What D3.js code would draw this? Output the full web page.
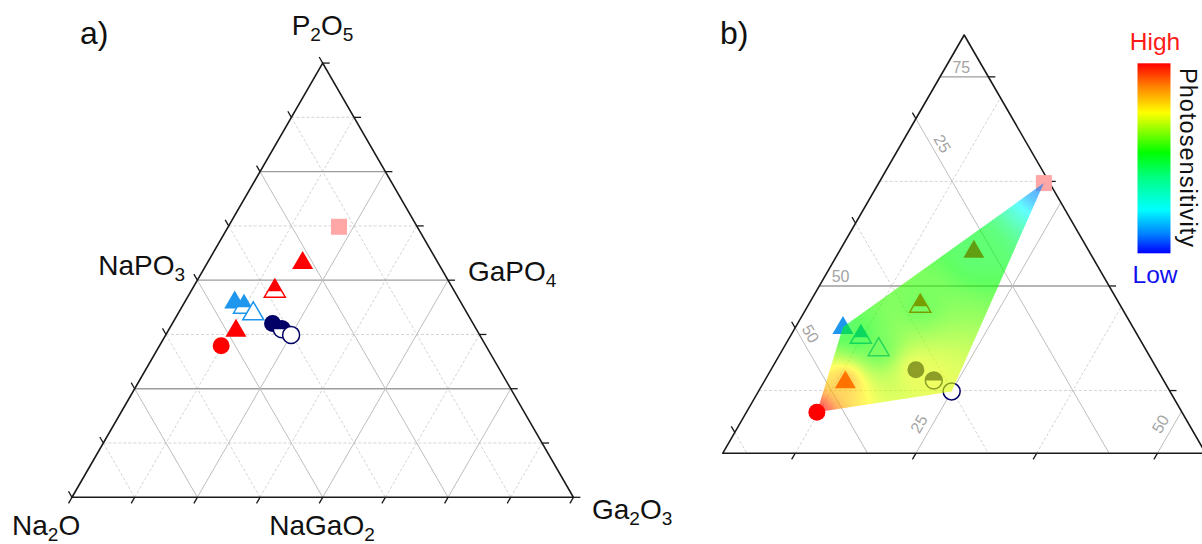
<!DOCTYPE html>
<html><head><meta charset="utf-8">
<script src="https://cdn.jsdelivr.net/npm/d3@7"></script>
<style>
html,body{margin:0;padding:0;background:#fff;overflow:hidden;}
svg{display:block;font-family:"Liberation Sans",Arial,Helvetica,sans-serif;}
</style>
</head><body>
<svg id="chart" width="1202" height="544"></svg>
<script>
// ---------------- data ----------------
// glass compositions (mol%)
const P2O5  = [62.3, 54.2, 47.7, 45.1, 44.0, 42.5, 38.6, 34.9, 40.0, 38.7, 37.4];
const Na2O  = [15.6, 26.9, 35.7, 45.0, 43.7, 42.6, 48.0, 52.8, 40.0, 38.8, 37.6];
const Ga2O3 = [22.1, 18.9, 16.6,  9.9, 12.3, 14.9, 13.4, 12.3, 20.0, 22.5, 25.0];
// marker series of each sample
const markerShape = ["square","triangle","triangle","triangle","triangle","triangle","triangle","circle","circle","circle","circle"];
const markerFill  = ["full","full","half","full","half","open","full","full","full","half","open"];
const markerSeries = ["pink","red","red","blue","blue","blue","red","red","navy","navy","navy"];
// relative photosensitivity (0 = low, 1 = high) used for the map in b)
const photosensitivity = [0.10, 0.50, 0.56, 0.50, 0.52, 0.56, 0.82, 1.00, 0.72, 0.72, 0.71];
// axis ranges of the two ternary plots  (P2O5, Na2O, Ga2O3 minimum, span)
const rangeA = {P: 0,  Na: 0,  Ga: 0, span: 100};
const rangeB = {P: 30, Na: 15, Ga: 5, span: 50};
const gridStep = 12.5, majorStep = 25;
// tick labels shown in b)
const bLabelsP  = [75, 50];
const bLabelsNa = [25, 50];
const bLabelsGa = [25, 50];
// colour-bar texts
const cbHigh = "High", cbLow = "Low", cbTitle = "Photosensitivity";

// ---------------- styles ----------------
const seriesColor = {pink:"#ffa6a6", red:"#ff0000", blue:"#1e96ee", navy:"#000066"};
const jetDomain = [0, 0.1, 0.23, 0.4, 0.53, 0.74, 0.88, 1];
const jetRange  = ["#0000ff","#0080ff","#00ffff","#00ff80","#00ff00","#ffff00","#ff8000","#ff0000"];
const colorScale = d3.scaleLinear().domain(jetDomain).range(jetRange).clamp(true);

const svg = d3.select("#chart");
const S3 = Math.sqrt(3)/2;

function makeTernary(x0, y0, side, r){
  const fP = d3.scaleLinear().domain([r.P, r.P + r.span]).range([0,1]);
  const fG = d3.scaleLinear().domain([r.Ga, r.Ga + r.span]).range([0,1]);
  const xs = d3.scaleLinear().domain([0,1]).range([x0, x0 + side]);
  const ys = d3.scaleLinear().domain([0,1]).range([y0, y0 - side*S3]);
  const proj = (P, Ga) => { const p = fP(P), g = fG(Ga); return [xs(g + p/2), ys(p)]; };
  return {proj, r};
}

function drawTernary(g, T, opts){
  const r = T.r, proj = T.proj;
  const lo = {P:r.P, Na:r.Na, Ga:r.Ga};
  const vals = k => d3.range(Math.ceil(lo[k]/gridStep)*gridStep, lo[k]+r.span+1e-6, gridStep);
  const inner = k => vals(k).filter(v => v > lo[k]+1e-6 && v < lo[k]+r.span-1e-6);
  const lines = [];
  inner("P").forEach(v => lines.push({fam:"P", v, a:proj(v, r.Ga), b:proj(v, 100 - v - r.Na)}));
  inner("Na").forEach(v => lines.push({fam:"Na", v, a:proj(100 - v - r.Ga, r.Ga), b:proj(r.P, 100 - v - r.P)}));
  inner("Ga").forEach(v => lines.push({fam:"Ga", v, a:proj(r.P, v), b:proj(100 - v - r.Na, v)}));
  const isMajor = v => Math.abs(v/majorStep - Math.round(v/majorStep)) < 1e-6;
  const grid = g.append("g");
  grid.selectAll("line.minor").data(lines.filter(d => !isMajor(d.v))).join("line")
    .attr("x1", d=>d.a[0]).attr("y1", d=>d.a[1]).attr("x2", d=>d.b[0]).attr("y2", d=>d.b[1])
    .attr("stroke", "#cfcfcf").attr("stroke-width", 0.9).attr("stroke-dasharray", "3,2");
  grid.selectAll("line.major").data(lines.filter(d => isMajor(d.v))).join("line")
    .attr("x1", d=>d.a[0]).attr("y1", d=>d.a[1]).attr("x2", d=>d.b[0]).attr("y2", d=>d.b[1])
    .attr("stroke", d => d.fam === "P" ? "#9c9c9c" : "#bdbdbd").attr("stroke-width", d => d.fam==="P"?1.3:1);

  // ticks
  const tl = 7;
  const ticks = [];
  vals("P").forEach(v => { const p = proj(v, 100 - v - r.Na); ticks.push([p, [p[0]+tl, p[1]]]); });
  vals("Na").forEach(v => { const p = proj(100 - v - r.Ga, r.Ga); ticks.push([p, [p[0]-tl*0.5, p[1]-tl*S3]]); });
  vals("Ga").forEach(v => { const p = proj(r.P, v); ticks.push([p, [p[0]-tl*0.5, p[1]+tl*S3]]); });
  g.append("g").selectAll("line").data(ticks).join("line")
    .attr("x1", d=>d[0][0]).attr("y1", d=>d[0][1]).attr("x2", d=>d[1][0]).attr("y2", d=>d[1][1])
    .attr("stroke", "#1a1a1a").attr("stroke-width", 1.3);

  // frame
  const top = proj(r.P + r.span, r.Ga), bl = proj(r.P, r.Ga), br = proj(r.P, r.Ga + r.span);
  g.append("path").attr("d", d3.line()([top, bl, br, top]) + "Z")
    .attr("fill", "none").attr("stroke", "#1a1a1a").attr("stroke-width", 1.6)
    .attr("stroke-linejoin", opts.join || "miter");
}

function markerPath(shape, x, y){
  if (shape === "square") return `M${x-8},${y-8}h16v16h-16Z`;
  if (shape === "triangle") return `M${x},${y-11}L${x+10.5},${y+7}L${x-10.5},${y+7}Z`;
  const rr = 8.5;
  return `M${x-rr},${y}A${rr},${rr} 0 1,1 ${x+rr},${y}A${rr},${rr} 0 1,1 ${x-rr},${y}Z`;
}
function halfPath(shape, x, y){
  if (shape === "triangle") { const yc = y+1, f = (yc-(y-11))/18, hw = 10.5*f;
    return `M${x},${y-11}L${x+hw},${yc}L${x-hw},${yc}Z`; }
  const rr = 8.5;
  return `M${x-rr},${y}A${rr},${rr} 0 0,1 ${x+rr},${y}Z`;
}

function drawMarkers(g, T){
  const pts = P2O5.map((p,i) => ({i, xy:T.proj(p, Ga2O3[i]), shape:markerShape[i], fill:markerFill[i], col:seriesColor[markerSeries[i]]}));
  const mg = g.append("g");
  pts.forEach(d => {
    const [x,y] = d.xy;
    mg.append("path").attr("d", markerPath(d.shape, x, y))
      .attr("fill", d.fill === "full" ? d.col : "#fff")
      .attr("stroke", d.col).attr("stroke-width", d.fill === "full" ? 0 : 1.5);
    if (d.fill === "half") mg.append("path").attr("d", halfPath(d.shape, x, y)).attr("fill", d.col);
  });
  return pts;
}

function chemLabel(g, parts, x, y, anchor, size){
  const t = g.append("text").attr("x", x).attr("y", y).attr("text-anchor", anchor)
    .attr("font-size", size).attr("fill", "#111");
  let sub = false;
  const off = size*0.21;
  parts.forEach(s => {
    const isSub = /^[0-9]+$/.test(s);
    const ts = t.append("tspan").text(s);
    if (isSub && !sub) { ts.attr("font-size", size*0.68).attr("dy", off); sub = true; }
    else if (!isSub && sub) { ts.attr("dy", -off); sub = false; }
    else if (isSub) ts.attr("font-size", size*0.68);
  });
  return t;
}

// ---------------- panel a ----------------
const gA = svg.append("g");
const TA = makeTernary(72, 497.3, 501.4, rangeA);
drawTernary(gA, TA, {join:"miter"});
drawMarkers(gA, TA);
gA.append("text").attr("x", 80).attr("y", 43.5).attr("font-size", 32).attr("fill","#111").text("a)");
chemLabel(gA, ["P","2","O","5"], 322.5, 35, "middle", 28);
chemLabel(gA, ["NaPO","3"], 185, 275, "end", 28);
chemLabel(gA, ["GaPO","4"], 468, 281, "start", 28);
chemLabel(gA, ["Na","2","O"], 12, 535, "start", 28);
chemLabel(gA, ["NaGaO","2"], 322, 535, "middle", 28);
chemLabel(gA, ["Ga","2","O","3"], 592, 519, "start", 28);

// ---------------- panel b ----------------
const gB = svg.append("g");
const TB = makeTernary(722.7, 453.3, 483, rangeB);
drawTernary(gB, TB, {join:"round"});
const ptsB = drawMarkers(gB, TB);

// interpolated photosensitivity map over the convex hull of the samples
const hull = d3.polygonHull(ptsB.map(d => d.xy));
svg.append("clipPath").attr("id", "hullClip").append("path").attr("d", "M" + hull.join("L") + "Z");
const [hx0, hx1] = d3.extent(hull, d => d[0]);
const [hy0, hy1] = d3.extent(hull, d => d[1]);
const cell = 2;
const cells = [];
for (let x = Math.floor(hx0) - cell; x < hx1 + cell; x += cell) {
  for (let y = Math.floor(hy0) - cell; y < hy1 + cell; y += cell) {
    const cx = x + cell/2, cy = y + cell/2;
    let sw = 0, sv = 0, exact = null;
    ptsB.forEach(d => {
      const dd = (cx-d.xy[0])**2 + (cy-d.xy[1])**2;
      if (dd < 1e-6) exact = photosensitivity[d.i];
      const w = 1/Math.pow(dd, 1.1);
      sw += w; sv += w*photosensitivity[d.i];
    });
    cells.push({x, y, v: exact !== null ? exact : sv/sw});
  }
}
gB.append("g").attr("clip-path", "url(#hullClip)").attr("opacity", 0.62)
  .selectAll("rect").data(cells).join("rect")
  .attr("x", d=>d.x).attr("y", d=>d.y).attr("width", cell+0.3).attr("height", cell+0.3)
  .attr("fill", d => colorScale(d.v)).attr("shape-rendering", "crispEdges");

// tick labels in b
const lab = gB.append("g").attr("font-size", 16).attr("fill", "#a4a4a4");
bLabelsP.forEach(v => { const p = TB.proj(v, 7.2);
  lab.append("text").attr("x", p[0]).attr("y", p[1]-4).attr("text-anchor","middle").text(v); });
const naAlongP = [67, 44.3];
bLabelsNa.forEach((v,k) => { const P = naAlongP[k]; const p = TB.proj(P, 100 - v - P);
  lab.append("text").attr("transform", `translate(${p[0]+12},${p[1]}) rotate(60)`)
    .attr("text-anchor","middle").attr("dy","0.35em").text(v); });
bLabelsGa.forEach(v => { const p = TB.proj(33.5, v);
  lab.append("text").attr("transform", `translate(${p[0]-14},${p[1]}) rotate(-60)`)
    .attr("text-anchor","middle").attr("dy","0.35em").text(v); });

gB.append("text").attr("x", 720).attr("y", 43.5).attr("font-size", 32).attr("fill","#111").text("b)");

// ---------------- colour bar ----------------
const defs = svg.append("defs");
const grad = defs.append("linearGradient").attr("id", "jet").attr("x1",0).attr("y1",1).attr("x2",0).attr("y2",0);
grad.selectAll("stop").data(jetDomain).join("stop")
  .attr("offset", d => d).attr("stop-color", d => colorScale(d));
const cbY = d3.scaleLinear().domain([0,1]).range([253.3, 63.3]);
svg.append("rect").attr("x", 1137.5).attr("y", cbY(1)).attr("width", 33).attr("height", cbY(0)-cbY(1))
  .attr("fill", "url(#jet)");
svg.append("text").attr("x", 1155).attr("y", 50).attr("text-anchor","middle").attr("font-size", 24.5)
  .attr("fill", "#ff1a1a").text(cbHigh);
svg.append("text").attr("x", 1155).attr("y", 283).attr("text-anchor","middle").attr("font-size", 24.5)
  .attr("fill", "#1010ee").text(cbLow);
svg.append("text").attr("transform", "translate(1180,68) rotate(90)").attr("font-size", 23.5)
  .attr("textLength", 179).attr("lengthAdjust", "spacing")
  .attr("fill", "#111").text(cbTitle);
</script>
</body></html>
